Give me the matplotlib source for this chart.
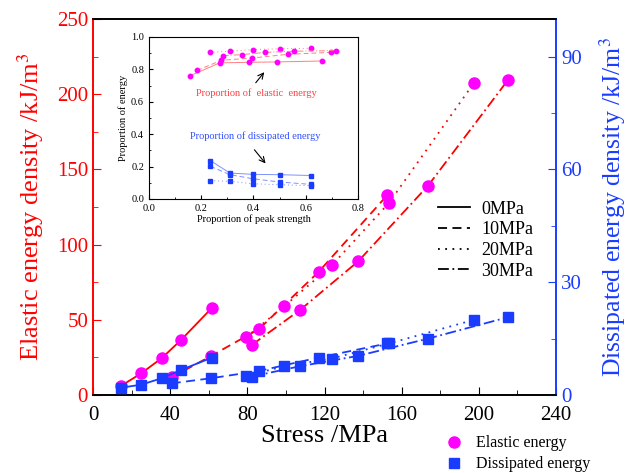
import matplotlib
matplotlib.use("Agg")
import matplotlib.pyplot as plt
from matplotlib.lines import Line2D
from matplotlib.ticker import MultipleLocator

plt.rcParams['font.family'] = ['Liberation Serif', 'DejaVu Serif']
plt.rcParams['mathtext.fontset'] = 'stix'

# main chart data (stress in MPa)
stress_0 = [14.7, 25.0, 35.9, 45.8, 61.7]
stress_10 = [40.8, 61.1, 86.1, 116.9, 152.5]
stress_20 = [79.3, 99.1, 123.8, 153.4, 197.6]
stress_30 = [82.2, 107.3, 137.4, 173.7, 215.2]

elastic_0 = [6.2, 14.4, 24.8, 36.8, 58.0]
elastic_10 = [11.7, 25.9, 43.9, 81.8, 132.8]
elastic_20 = [38.3, 59.0, 86.2, 127.7, 207.7]
elastic_30 = [33.2, 56.5, 88.8, 139.2, 209.6]

dissip_0 = [1.95, 2.75, 4.5, 6.7, 9.95]
dissip_10 = [3.1, 4.45, 6.4, 9.95, 13.7]
dissip_20 = [5.07, 7.65, 9.7, 13.7, 20.0]
dissip_30 = [4.9, 7.65, 10.4, 15.0, 20.7]

pressures = ['0MPa', '10MPa', '20MPa', '30MPa']

# inset data (proportion of peak strength vs proportion of energy)
in_el_x = [[0.158, 0.270, 0.383, 0.490, 0.663],
           [0.184, 0.277, 0.393, 0.532, 0.695],
           [0.232, 0.309, 0.398, 0.500, 0.619],
           [0.283, 0.356, 0.445, 0.554, 0.716]]
in_el_y = [[0.761, 0.840, 0.844, 0.846, 0.852],
           [0.794, 0.856, 0.870, 0.893, 0.905],
           [0.905, 0.912, 0.922, 0.928, 0.930],
           [0.885, 0.891, 0.905, 0.912, 0.916]]
in_ds_x = [0.235, 0.31, 0.398, 0.50, 0.62]
in_ds_y = [[0.237, 0.160, 0.152, 0.150, 0.145],
           [0.202, 0.150, 0.125, 0.105, 0.090],
           [0.113, 0.109, 0.094, 0.088, 0.082]]

styles = ['-', (0, (5, 3)), (0, (1, 3)), (0, (6, 2, 1, 2))]
RED = '#ff0000'
MAG = '#ff00ff'
BLUE = '#1a3cff'

fig = plt.figure(figsize=(6.27, 4.73), dpi=100)
ax = fig.add_axes([0.1483, 0.1649, 0.7385, 0.795])
ax2 = ax.twinx()

xs = [stress_0, stress_10, stress_20, stress_30]
el = [elastic_0, elastic_10, elastic_20, elastic_30]
ds = [dissip_0, dissip_10, dissip_20, dissip_30]
for x, e, d, ls in zip(xs, el, ds, styles):
    ax.plot(x, e, color=RED, ls=ls, lw=1.3, zorder=2)
    ax.plot(x, e, 'o', color=MAG, ms=8, mec=MAG, zorder=3)
    ax2.plot(x, d, color=BLUE, ls=ls, lw=1.3, zorder=2)
    ax2.plot(x, d, 's', color=BLUE, ms=7, mec=BLUE, zorder=3)

ax.set_xlim(0, 240)
ax.set_ylim(0, 250)
ax2.set_ylim(0, 100)
ax.xaxis.set_major_locator(MultipleLocator(40))
ax.xaxis.set_minor_locator(MultipleLocator(20))
ax.yaxis.set_major_locator(MultipleLocator(50))
ax.yaxis.set_minor_locator(MultipleLocator(25))
ax2.yaxis.set_major_locator(MultipleLocator(30))
ax2.yaxis.set_minor_locator(MultipleLocator(15))

ax.tick_params(axis='both', which='both', direction='in', labelsize=15)
ax.tick_params(which='major', length=6)
ax.tick_params(which='minor', length=3.5)
ax.tick_params(axis='x', pad=8)
ax.tick_params(axis='y', which='both', colors=RED)
ax2.tick_params(axis='y', which='both', direction='in', colors=BLUE, labelsize=15)
ax2.tick_params(which='major', length=6)
ax2.tick_params(which='minor', length=3.5)

ax.spines['left'].set_color(RED)
ax2.spines['left'].set_color(RED)
ax2.spines['right'].set_color(BLUE)
ax.spines['right'].set_color(BLUE)
for a in (ax, ax2):
    for s in a.spines.values():
        s.set_linewidth(1.2)

ax.set_xlabel('Stress /MPa', fontsize=19, labelpad=0)
ax.set_ylabel('Elastic energy density /kJ/m$^3$', fontsize=19, color=RED, labelpad=8)
ax2.set_ylabel('Dissipated energy density /kJ/m$^3$', fontsize=18.5, color=BLUE, labelpad=11)

# line style legend
ls_handles = [Line2D([], [], color='black', ls=ls, lw=1.3) for ls in styles]
ax.legend(ls_handles, pressures, loc='upper left', bbox_to_anchor=(0.71, 0.56),
          frameon=False, fontsize=13, handlelength=1.8, handletextpad=0.6,
          labelspacing=0.2)

# marker legend below the axes
mk_handles = [Line2D([], [], ls='none', marker='o', color=MAG, ms=8),
              Line2D([], [], ls='none', marker='s', color=BLUE, ms=7)]
fig.legend(mk_handles, ['Elastic energy', 'Dissipated energy'], loc='lower left',
           bbox_to_anchor=(0.68, -0.022), frameon=False, fontsize=11.5,
           handletextpad=0.4, labelspacing=0.3, borderpad=0.2)

# inset
ins = fig.add_axes([0.2376, 0.5793, 0.3333, 0.3425])
for x, y, ls in zip(in_el_x, in_el_y, styles):
    ins.plot(x, y, color='#ff8080', ls=ls, lw=0.7)
    ins.plot(x, y, 'o', color=MAG, ms=3.2)
for y, ls in zip(in_ds_y, styles):
    ins.plot(in_ds_x, y, color='#8090ff', ls=ls, lw=0.7)
    ins.plot(in_ds_x, y, 's', color=BLUE, ms=3)
ins.set_xlim(0, 0.8)
ins.set_ylim(0, 1.0)
ins.xaxis.set_major_locator(MultipleLocator(0.2))
ins.xaxis.set_minor_locator(MultipleLocator(0.1))
ins.yaxis.set_major_locator(MultipleLocator(0.2))
ins.yaxis.set_minor_locator(MultipleLocator(0.1))
ins.tick_params(which='both', direction='in', labelsize=7.5)
ins.tick_params(which='major', length=3)
ins.tick_params(which='minor', length=1.5)
ins.set_xlabel('Proportion of peak strength', fontsize=7.5, labelpad=1)
ins.set_ylabel('Proportion of energy', fontsize=7.5, labelpad=2)
ins.text(0.412, 0.652, 'Proportion of  elastic  energy', color='#ff4040',
         fontsize=7.5, ha='center', va='center')
ins.text(0.406, 0.389, 'Proportion of dissipated energy', color='#3050ff',
         fontsize=7.5, ha='center', va='center')
ins.annotate('', xy=(0.448, 0.796), xytext=(0.402, 0.704),
             arrowprops=dict(arrowstyle='->', color='black', lw=0.8))
ins.annotate('', xy=(0.453, 0.206), xytext=(0.397, 0.317),
             arrowprops=dict(arrowstyle='->', color='black', lw=0.8))

fig.savefig('out.png', dpi=100)
